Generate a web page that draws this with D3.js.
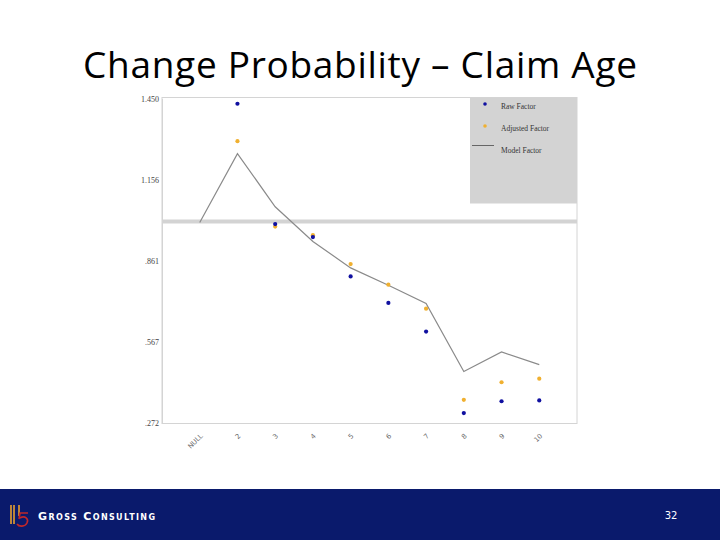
<!DOCTYPE html>
<html><head><meta charset="utf-8">
<script src="https://cdn.jsdelivr.net/npm/d3@7"></script>
<style>html,body{margin:0;padding:0;background:#fff;}svg{display:block;}</style>
</head><body>
<script>
const categories = ["NULL","2","3","4","5","6","7","8","9","10"];
const modelFactor = [1.0,1.25,1.057,0.931,0.835,0.772,0.706,0.459,0.530,0.484];
const rawFactor = [null,1.431,0.994,0.947,0.804,0.708,0.604,0.308,0.351,0.354];
const adjustedFactor = [null,1.295,0.985,0.954,0.849,0.774,0.687,0.356,0.420,0.433];
const yTicks = [1.450,1.156,0.861,0.567,0.272];
const yTickLabels = ["1.450","1.156",".861",".567",".272"];
const baseValue = 1.0;
const legendLabels = ["Raw Factor","Adjusted Factor","Model Factor"];

(function(){
const W = 720, H = 540;
const svg = d3.select("body").append("svg").attr("width",W).attr("height",H);

svg.append("text").attr("x",83).attr("y",78)
  .attr("font-family","'Open Sans', Lato, sans-serif").attr("font-size",37)
  .attr("textLength",554).attr("lengthAdjust","spacing")
  .attr("fill","#000").text("Change Probability \u2013 Claim Age");

const pL=162, pR=577, pT=97.5, pB=423.5;
const x = d3.scalePoint().domain(categories).range([pL,pR]).padding(1);
const y = d3.scaleLinear().domain([0.272,1.450]).range([pB-0.5,pT+1]);

// frame
svg.append("rect").attr("x",pL).attr("y",pT).attr("width",pR-pL).attr("height",pB-pT)
  .attr("fill","none").attr("stroke","#d4d4d4").attr("stroke-width",1);

// legend box
svg.append("rect").attr("x",470).attr("y",pT).attr("width",pR-470).attr("height",106)
  .attr("fill","#d3d3d3");

// reference line
svg.append("line").attr("x1",pL).attr("x2",pR).attr("y1",y(baseValue)-1).attr("y2",y(baseValue)-1)
  .attr("stroke","#d3d3d3").attr("stroke-width",4);

// y axis labels
const yAxis = d3.axisLeft(y).tickValues(yTicks).tickSize(0).tickPadding(3)
  .tickFormat((d,i)=>yTickLabels[i]);
const ya = svg.append("g").attr("transform",`translate(${pL},0)`).call(yAxis);
ya.select(".domain").attr("stroke","#d4d4d4");
ya.selectAll("text").attr("font-family","'Liberation Serif', serif").attr("font-size",8).attr("fill","#444");

// x axis labels
const xAxis = d3.axisBottom(x).tickSize(0).tickPadding(0);
const xa = svg.append("g").attr("transform",`translate(0,${pB})`).call(xAxis);
xa.select(".domain").remove();
xa.selectAll("text").attr("font-family","'DejaVu Sans', sans-serif").attr("font-size",6.8).attr("fill","#6a6a6a")
  .attr("text-anchor","end").attr("dy",0)
  .attr("transform","translate(3,13) rotate(-45)");

// model line
const line = d3.line().x((d,i)=>x(categories[i])).y(d=>y(d));
svg.append("path").datum(modelFactor).attr("d",line).attr("fill","none")
  .attr("stroke","#8a8a8a").attr("stroke-width",1.2);

// points
function dots(arr,color){
  svg.append("g").selectAll("circle").data(arr.map((v,i)=>({v,c:categories[i]})).filter(d=>d.v!=null))
    .join("circle").attr("cx",d=>x(d.c)).attr("cy",d=>y(d.v)).attr("r",2.1).attr("fill",color);
}
dots(adjustedFactor,"#f0b030");
dots(rawFactor,"#1010a0");

// legend
const lg = svg.append("g").attr("font-family","'Liberation Serif', serif").attr("font-size",7.5).attr("fill","#333");
lg.append("circle").attr("cx",485).attr("cy",104).attr("r",1.8).attr("fill","#1010a0");
lg.append("circle").attr("cx",485).attr("cy",126).attr("r",1.8).attr("fill","#f0b030");
lg.append("line").attr("x1",472).attr("x2",494).attr("y1",145.5).attr("y2",145.5).attr("stroke","#666").attr("stroke-width",1);
legendLabels.forEach((t,i)=>{
  lg.append("text").attr("x",501).attr("y",[108.5,130.5,153][i]).attr("fill","#333").text(t);
});

// footer
svg.append("rect").attr("x",0).attr("y",489).attr("width",W).attr("height",H-489).attr("fill","#0a1a6c");
const logo = svg.append("g");
logo.append("path").attr("d","M11,505 L11,524 M14,505 L14,524 M19,505 L19,516").attr("stroke","#e8a030").attr("stroke-width",1.6).attr("fill","none");
logo.append("path").attr("d","M28,513 L20,513 L19,519 M20,518 C25,515 29,519 27,523 C25,527 19,527 17,524").attr("stroke","#c0282a").attr("stroke-width",1.6).attr("fill","none");
svg.append("text").attr("x",38).attr("y",519.5).attr("font-family","'DejaVu Sans', sans-serif")
  .attr("font-weight","bold").attr("font-size",11).attr("fill","#fff")
  .attr("textLength",117).attr("lengthAdjust","spacing")
  .style("font-variant","small-caps").text("Gross Consulting");
svg.append("text").attr("x",671).attr("y",518.5).attr("text-anchor","middle").attr("font-family","'DejaVu Sans', sans-serif")
  .attr("font-size",10).attr("fill","#fff").text("32");
})();
</script>
</body></html>
